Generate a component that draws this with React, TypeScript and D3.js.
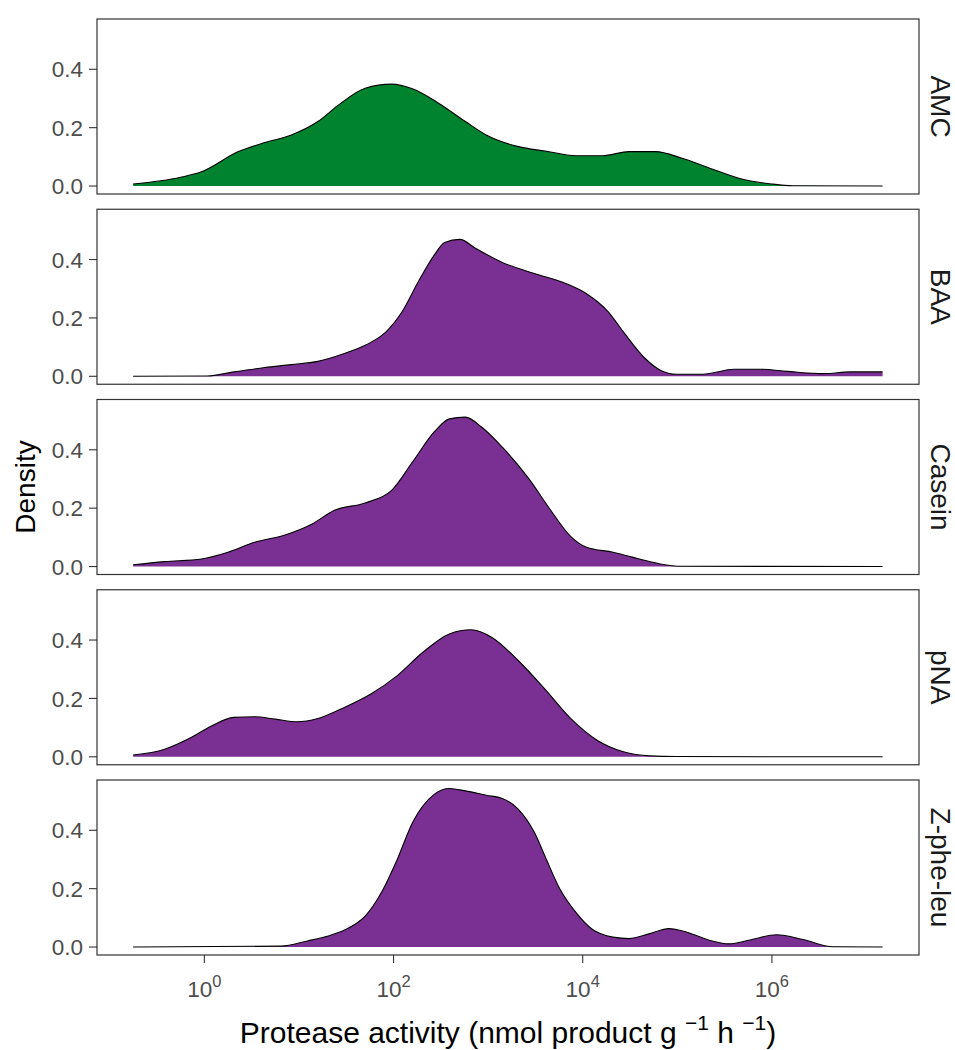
import React from "react";
import * as d3 from "d3";

// density curves: x as log10(activity), y as density
const panels = ["AMC", "BAA", "Casein", "pNA", "Z-phe-leu"];

const amcExp = [-0.753, -0.25, -0.03, 0.36, 0.64, 0.92, 1.2, 1.42, 1.7, 1.98, 2.2, 2.48, 2.76, 2.98, 3.32, 3.6, 3.93, 4.21, 4.49, 4.77, 5.05, 5.33, 5.66, 6.0, 6.22, 7.17];
const amcDen = [0.007, 0.03, 0.049, 0.118, 0.149, 0.175, 0.221, 0.278, 0.335, 0.349, 0.333, 0.283, 0.221, 0.175, 0.135, 0.12, 0.104, 0.104, 0.118, 0.118, 0.095, 0.063, 0.026, 0.007, 0.001, 0.0];

const baaExp = [-0.753, 0.03, 0.31, 0.64, 0.92, 1.2, 1.48, 1.7, 1.92, 2.09, 2.26, 2.43, 2.54, 2.7, 2.87, 3.15, 3.49, 3.82, 4.04, 4.27, 4.43, 4.66, 4.82, 4.99, 5.27, 5.6, 5.88, 6.16, 6.55, 6.83, 7.17];
const baaDen = [0.0, 0.001, 0.015, 0.03, 0.04, 0.051, 0.078, 0.106, 0.152, 0.221, 0.323, 0.415, 0.458, 0.469, 0.438, 0.39, 0.352, 0.318, 0.283, 0.221, 0.152, 0.061, 0.021, 0.007, 0.007, 0.024, 0.024, 0.017, 0.009, 0.015, 0.015];

const caseinExp = [-0.753, -0.42, -0.03, 0.25, 0.53, 0.86, 1.14, 1.37, 1.7, 1.98, 2.2, 2.43, 2.59, 2.76, 2.93, 3.15, 3.43, 3.65, 3.88, 4.04, 4.32, 4.6, 4.82, 5.05, 7.17];
const caseinDen = [0.006, 0.017, 0.026, 0.049, 0.083, 0.109, 0.146, 0.192, 0.218, 0.261, 0.358, 0.461, 0.506, 0.512, 0.478, 0.409, 0.301, 0.198, 0.101, 0.066, 0.049, 0.026, 0.009, 0.001, 0.0];

const pnaExp = [-0.753, -0.42, -0.14, 0.08, 0.31, 0.53, 0.75, 0.98, 1.2, 1.48, 1.76, 2.04, 2.31, 2.59, 2.82, 3.04, 3.32, 3.6, 3.88, 4.16, 4.43, 4.71, 4.99, 7.17];
const pnaDen = [0.006, 0.026, 0.066, 0.106, 0.135, 0.137, 0.129, 0.12, 0.131, 0.169, 0.215, 0.278, 0.358, 0.421, 0.435, 0.409, 0.329, 0.232, 0.129, 0.055, 0.017, 0.003, 0.001, 0.0];

const zplExp = [-0.753, 0.81, 1.09, 1.31, 1.53, 1.7, 1.87, 2.04, 2.2, 2.43, 2.59, 2.76, 2.98, 3.15, 3.32, 3.49, 3.6, 3.76, 3.93, 4.1, 4.32, 4.49, 4.71, 4.91, 5.1, 5.33, 5.55, 5.77, 6.05, 6.33, 6.64, 7.17];
const zplDen = [0.0, 0.003, 0.021, 0.038, 0.066, 0.106, 0.186, 0.301, 0.426, 0.523, 0.543, 0.535, 0.52, 0.509, 0.472, 0.392, 0.312, 0.198, 0.118, 0.061, 0.034, 0.029, 0.046, 0.063, 0.051, 0.024, 0.011, 0.024, 0.042, 0.026, 0.001, 0.0];

const seriesExp = [amcExp, baaExp, caseinExp, pnaExp, zplExp];
const seriesDen = [amcDen, baaDen, caseinDen, pnaDen, zplDen];
const fills = ["#00832f", "#7a3092", "#7a3092", "#7a3092", "#7a3092"];

const yTicks = [0, 0.2, 0.4];
const xTickExps = [0, 2, 4, 6];

const font = "'Liberation Sans', Arial, sans-serif";

export default function App() {
  const left = 97,
    right = 919,
    top0 = 19,
    panelH = 175,
    step = 190.25;

  const x = d3
    .scaleLog()
    .domain([Math.pow(10, -1.135), Math.pow(10, 7.555)])
    .range([left, right]);

  return (
    <svg
      width={955}
      height={1050}
      style={{ position: "absolute", left: 0, top: 0, background: "#fff" }}
      fontFamily={font}
    >
      {panels.map((name, i) => {
        const top = top0 + i * step;
        const y = d3
          .scaleLinear()
          .domain([-0.02725, 0.57225])
          .range([top + panelH, top]);
        const pts = seriesExp[i].map((e, k) => ({ e: e, v: seriesDen[i][k] }));
        const area = d3
          .area<{ e: number; v: number }>()
          .x((d) => x(Math.pow(10, d.e)))
          .y0(y(0))
          .y1((d) => y(d.v))
          .curve(d3.curveMonotoneX);
        const line = d3
          .line<{ e: number; v: number }>()
          .x((d) => x(Math.pow(10, d.e)))
          .y((d) => y(d.v))
          .curve(d3.curveMonotoneX);
        return (
          <g key={name}>
            <path d={area(pts) || ""} fill={fills[i]} />
            <path d={line(pts) || ""} fill="none" stroke="#000" strokeWidth={1.1} />
            <rect
              x={left}
              y={top}
              width={right - left}
              height={panelH}
              fill="none"
              stroke="#333"
              strokeWidth={1.2}
            />
            {yTicks.map((t) => (
              <g key={t}>
                <line x1={left - 8} x2={left} y1={y(t)} y2={y(t)} stroke="#333" strokeWidth={1.1} />
                <text
                  x={left - 14}
                  y={y(t)}
                  dy="0.36em"
                  textAnchor="end"
                  fontSize={22.5}
                  fill="#4d4d4d"
                >
                  {t.toFixed(1)}
                </text>
              </g>
            ))}
            <text
              transform={`translate(931,${top + panelH / 2}) rotate(90)`}
              textAnchor="middle"
              fontSize={28}
              fill="#1a1a1a"
            >
              {name}
            </text>
          </g>
        );
      })}

      {xTickExps.map((e) => {
        const bottom = top0 + 4 * step + panelH;
        const px = x(Math.pow(10, e));
        return (
          <g key={e}>
            <line x1={px} x2={px} y1={bottom} y2={bottom + 8} stroke="#333" strokeWidth={1.1} />
            <text x={px} y={997} textAnchor="middle" fontSize={22.5} fill="#4d4d4d">
              10
              <tspan dy={-10} fontSize={16.5}>
                {e}
              </tspan>
            </text>
          </g>
        );
      })}

      <text
        transform={`translate(35,${top0 + (4 * step + panelH) / 2}) rotate(-90)`}
        textAnchor="middle"
        fontSize={28}
        fill="#000"
      >
        Density
      </text>

      <text x={(left + right) / 2} y={1043} textAnchor="middle" fontSize={30} fill="#000">
        Protease activity (nmol product g{" "}
        <tspan dy={-13} fontSize={21}>
          −1
        </tspan>
        <tspan dy={13}> h </tspan>
        <tspan dy={-13} fontSize={21}>
          −1
        </tspan>
        <tspan dy={13}>)</tspan>
      </text>
    </svg>
  );
}
